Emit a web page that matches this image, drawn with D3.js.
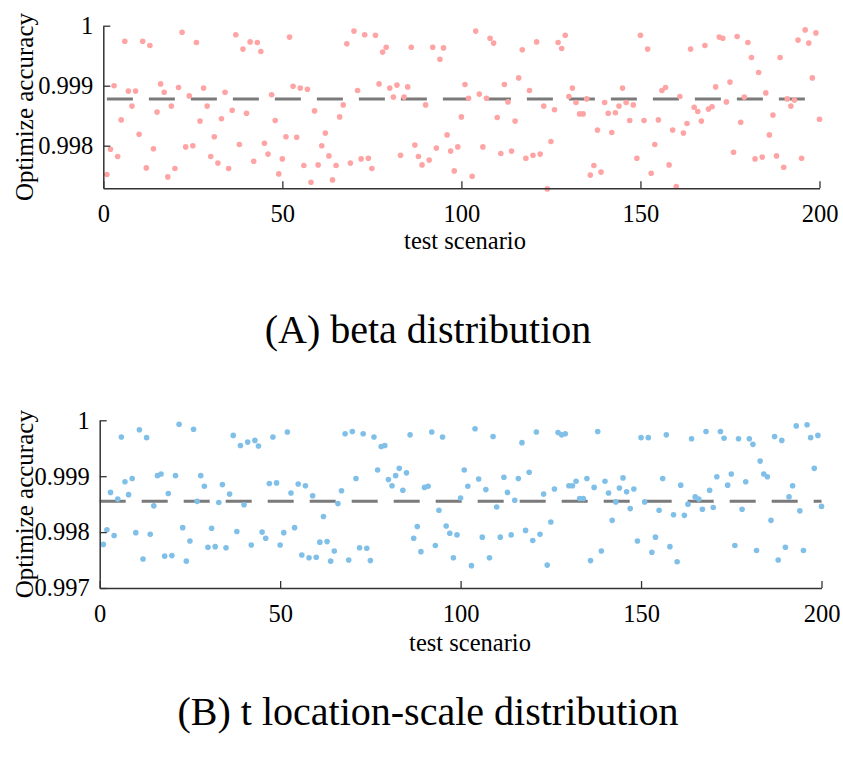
<!DOCTYPE html>
<html>
<head>
<meta charset="utf-8">
<script src="https://cdn.jsdelivr.net/npm/d3@7"></script>
<style>
  body { margin: 0; background: #fff; }
  text { font-family: "Liberation Serif", "Times New Roman", serif; fill: #000; }
</style>
</head>
<body>
<div id="container"></div>
<script>
// test scenario index, 1..200
var scenarios = d3.range(1, 201);

// (A) beta distribution
var accuracyBeta = [
  0.99752, 0.99794, 0.99900, 0.99782, 0.99843, 0.99974, 0.99891, 0.99866, 0.99891, 0.99819,
  0.99974, 0.99763, 0.99967, 0.99795, 0.99856, 0.99903, 0.99889, 0.99748, 0.99866, 0.99762,
  0.99897, 0.99989, 0.99798, 0.99883, 0.99800, 0.99972, 0.99841, 0.99896, 0.99866, 0.99782,
  0.99815, 0.99771, 0.99845, 0.99889, 0.99762, 0.99859, 0.99985, 0.99802, 0.99961, 0.99854,
  0.99973, 0.99774, 0.99972, 0.99957, 0.99804, 0.99786, 0.99885, 0.99842, 0.99753, 0.99778,
  0.99815, 0.99981, 0.99899, 0.99814, 0.99896, 0.99767, 0.99894, 0.99739, 0.99858, 0.99768,
  0.99800, 0.99821, 0.99783, 0.99743, 0.99767, 0.99848, 0.99868, 0.99970, 0.99771, 0.99991,
  0.99892, 0.99778, 0.99985, 0.99779, 0.99762, 0.99984, 0.99903, 0.99956, 0.99964, 0.99896,
  0.99881, 0.99901, 0.99784, 0.99881, 0.99898, 0.99964, 0.99801, 0.99782, 0.99768, 0.99868,
  0.99776, 0.99964, 0.99796, 0.99944, 0.99963, 0.99818, 0.99791, 0.99758, 0.99798, 0.99848,
  0.99902, 0.99879, 0.99749, 0.99991, 0.99886, 0.99798, 0.99879, 0.99979, 0.99971, 0.99847,
  0.99787, 0.99902, 0.99873, 0.99791, 0.99841, 0.99913, 0.99960, 0.99779, 0.99892, 0.99784,
  0.99973, 0.99786, 0.99866, 0.99728, 0.99807, 0.99860, 0.99972, 0.99962, 0.99984, 0.99882,
  0.99896, 0.99872, 0.99853, 0.99853, 0.99878, 0.99751, 0.99767, 0.99826, 0.99756, 0.99872,
  0.99854, 0.99822, 0.99855, 0.99866, 0.99896, 0.99872, 0.99842, 0.99868, 0.99779, 0.99984,
  0.99842, 0.99961, 0.99754, 0.99802, 0.99843, 0.99892, 0.99897, 0.99768, 0.99826, 0.99732,
  0.99882, 0.99821, 0.99837, 0.99961, 0.99864, 0.99857, 0.99841, 0.99967, 0.99861, 0.99865,
  0.99898, 0.99981, 0.99979, 0.99873, 0.99906, 0.99789, 0.99982, 0.99839, 0.99881, 0.99972,
  0.99947, 0.99778, 0.99922, 0.99781, 0.99888, 0.99818, 0.99851, 0.99783, 0.99947, 0.99764,
  0.99878, 0.99866, 0.99876, 0.99976, 0.99779, 0.99993, 0.99971, 0.99913, 0.99988, 0.99844
];

// (B) t location-scale distribution
var accuracyT = [
  0.99778, 0.99804, 0.99871, 0.99794, 0.99859, 0.99970, 0.99890, 0.99867, 0.99896, 0.99799,
  0.99983, 0.99752, 0.99969, 0.99796, 0.99847, 0.99901, 0.99904, 0.99757, 0.99869, 0.99758,
  0.99901, 0.99993, 0.99808, 0.99748, 0.99784, 0.99984, 0.99855, 0.99901, 0.99882, 0.99773,
  0.99807, 0.99774, 0.99853, 0.99885, 0.99772, 0.99868, 0.99973, 0.99801, 0.99955, 0.99849,
  0.99961, 0.99777, 0.99964, 0.99954, 0.99800, 0.99789, 0.99887, 0.99970, 0.99888, 0.99777,
  0.99799, 0.99979, 0.99870, 0.99808, 0.99886, 0.99759, 0.99883, 0.99754, 0.99865, 0.99755,
  0.99782, 0.99828, 0.99783, 0.99748, 0.99766, 0.99851, 0.99874, 0.99976, 0.99750, 0.99980,
  0.99896, 0.99772, 0.99976, 0.99771, 0.99749, 0.99970, 0.99911, 0.99953, 0.99955, 0.99894,
  0.99883, 0.99901, 0.99914, 0.99875, 0.99906, 0.99974, 0.99789, 0.99810, 0.99765, 0.99880,
  0.99882, 0.99979, 0.99776, 0.99839, 0.99970, 0.99811, 0.99798, 0.99754, 0.99795, 0.99861,
  0.99911, 0.99882, 0.99740, 0.99985, 0.99895, 0.99791, 0.99876, 0.99754, 0.99971, 0.99845,
  0.99791, 0.99898, 0.99871, 0.99795, 0.99857, 0.99896, 0.99960, 0.99803, 0.99907, 0.99785,
  0.99979, 0.99796, 0.99868, 0.99741, 0.99818, 0.99877, 0.99978, 0.99974, 0.99976, 0.99883,
  0.99883, 0.99891, 0.99860, 0.99860, 0.99896, 0.99749, 0.99880, 0.99980, 0.99766, 0.99891,
  0.99870, 0.99821, 0.99854, 0.99879, 0.99897, 0.99872, 0.99842, 0.99877, 0.99784, 0.99969,
  0.99854, 0.99969, 0.99764, 0.99791, 0.99839, 0.99896, 0.99974, 0.99774, 0.99831, 0.99747,
  0.99884, 0.99830, 0.99850, 0.99967, 0.99863, 0.99859, 0.99841, 0.99980, 0.99875, 0.99844,
  0.99899, 0.99980, 0.99968, 0.99884, 0.99904, 0.99776, 0.99967, 0.99841, 0.99890, 0.99967,
  0.99957, 0.99767, 0.99927, 0.99904, 0.99899, 0.99821, 0.99971, 0.99750, 0.99964, 0.99773,
  0.99863, 0.99883, 0.99990, 0.99838, 0.99767, 0.99992, 0.99969, 0.99914, 0.99973, 0.99846
];

// mean lines (dashed)
var meanBeta = 0.99878;
var meanT = 0.99855;

// axis ticks
var xTicks = [0, 50, 100, 150, 200];
var yTicksBeta = [0.998, 0.999, 1];
var yTicksT = [0.997, 0.998, 0.999, 1];

var width = 843,
height = 758;

var svg = d3.select('#container').append('svg')
  .attr('width', width)
  .attr('height', height);

svg.append('rect').attr('width', width).attr('height', height).attr('fill', '#fff');

function yFormat(d) {
  return d === 1 ? '1' : d.toFixed(3);
}

// draws one panel
function drawPanel(opts) {
  var x = d3.scaleLinear().domain([0, 200]).range([opts.left, opts.right]);
  var y = d3.scaleLinear().domain(opts.yDomain).range([opts.bottom, opts.top]);

  var g = svg.append('g');

  // dashed mean line
  g.append('line')
    .attr('x1', x(opts.lineFrom))
    .attr('x2', x(200))
    .attr('y1', y(opts.mean))
    .attr('y2', y(opts.mean))
    .attr('stroke', '#7a7a7a')
    .attr('stroke-width', 3)
    .attr('stroke-dasharray', '26,16');

  // points
  g.append('g').selectAll('circle')
    .data(opts.values)
    .enter()
    .append('circle')
    .attr('cx', function (d, i) { return x(scenarios[i]); })
    .attr('cy', function (d) { return y(d); })
    .attr('r', 2.8)
    .attr('fill', opts.colour);

  var xAxis = d3.axisBottom(x).tickValues(xTicks).tickSize(-7).tickSizeOuter(0).tickPadding(opts.xPad);
  var yAxis = d3.axisLeft(y).tickValues(opts.yTicks).tickFormat(yFormat).tickSize(-7).tickSizeOuter(0).tickPadding(10);

  var gx = g.append('g')
    .attr('transform', 'translate(0,' + opts.bottom + ')')
    .call(xAxis);
  var gy = g.append('g')
    .attr('transform', 'translate(' + opts.left + ',0)')
    .call(yAxis);

  [gx, gy].forEach(function (a) {
    a.attr('font-family', '"Liberation Serif", "Times New Roman", serif');
    a.select('.domain').attr('stroke', '#333').attr('stroke-width', 1.5);
    a.selectAll('.tick line').attr('stroke', '#333').attr('stroke-width', 1.3);
    a.selectAll('.tick text')
      .style('font-size', '24.5px')
      .attr('fill', '#000');
  });

  // axis titles
  g.append('text')
    .attr('x', opts.xTitleX)
    .attr('y', opts.xTitleY)
    .attr('text-anchor', 'middle')
    .style('font-size', '24.5px')
    .text('test scenario');

  g.append('text')
    .attr('transform', 'translate(33,' + (opts.top + opts.bottom) / 2 + ') rotate(-90)')
    .attr('text-anchor', 'middle')
    .style('font-size', '25px')
    .text('Optimize accuracy');

  // caption
  svg.append('text')
    .attr('x', 428)
    .attr('y', opts.captionY)
    .attr('text-anchor', 'middle')
    .style('font-size', '40px')
    .text(opts.caption);
}

drawPanel({
  values: accuracyBeta,
  mean: meanBeta,
  lineFrom: 1,
  colour: '#ffa4a4',
  yDomain: [0.99729, 1],
  yTicks: yTicksBeta,
  left: 103.3, right: 819.5, top: 25.7, bottom: 188.3,
  xPad: 16,
  xTitleX: 465, xTitleY: 249,
  caption: '(A) beta distribution',
  captionY: 343
});

drawPanel({
  values: accuracyT,
  mean: meanT,
  lineFrom: 0,
  colour: '#80c0e8',
  yDomain: [0.997, 1],
  yTicks: yTicksT,
  left: 99.7, right: 821.5, top: 420.3, bottom: 588,
  xPad: 17,
  xTitleX: 470, xTitleY: 650.5,
  caption: '(B) t location-scale distribution',
  captionY: 725
});
</script>
</body>
</html>
